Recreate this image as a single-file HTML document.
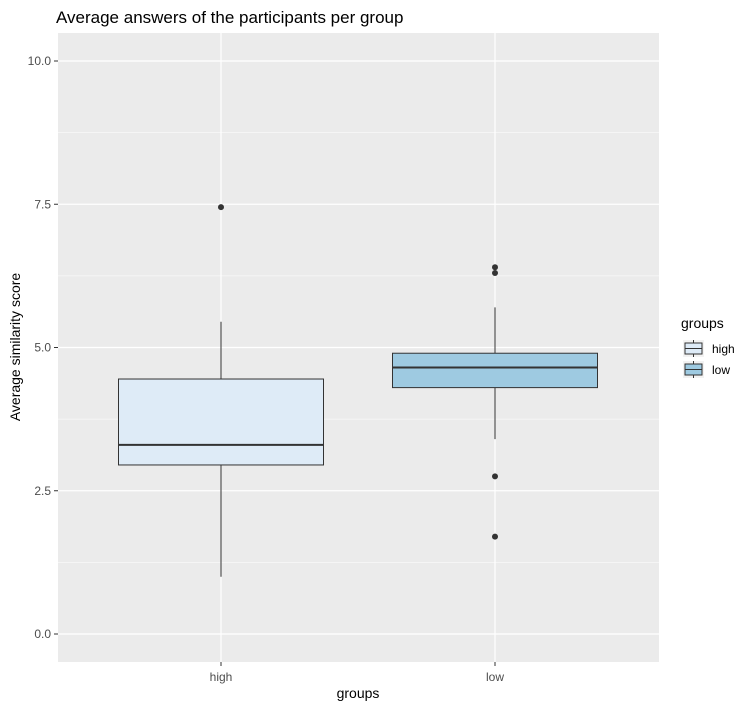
<!DOCTYPE html>
<html><head><meta charset="utf-8"><style>
body{margin:0;background:#fff;}
svg text{font-family:"Liberation Sans",Arial,sans-serif;}
</style></head><body>
<svg width="751" height="709" xmlns="http://www.w3.org/2000/svg" id="chart">
<text x="56" y="23" font-size="17" fill="#000">Average answers of the participants per group</text>
<rect x="58" y="33" width="601" height="629" fill="#ebebeb"/>
<g id="grid"></g>
<g id="marks"></g>
<g id="axes"></g>
<text x="358" y="698" font-size="14" text-anchor="middle">groups</text>
<text transform="translate(20,347) rotate(-90)" font-size="14" text-anchor="middle">Average similarity score</text>
<g>
<text x="681" y="328" font-size="14">groups</text>
<g>
<rect x="683" y="340" width="21" height="17" fill="#f2f2f2"/>
<line x1="693.5" y1="340" x2="693.5" y2="357" stroke="#333"/>
<rect x="685" y="343" width="17" height="11" fill="#deebf7" stroke="#333"/>
<line x1="685" y1="348.5" x2="702" y2="348.5" stroke="#333"/>
<text x="712" y="353" font-size="12" fill="#000">high</text></g>
<g>
<rect x="683" y="361" width="21" height="17" fill="#f2f2f2"/>
<line x1="693.5" y1="361" x2="693.5" y2="378" stroke="#333"/>
<rect x="685" y="364" width="17" height="11" fill="#9ecae1" stroke="#333"/>
<line x1="685" y1="369.5" x2="702" y2="369.5" stroke="#333"/>
<text x="712" y="374" font-size="12" fill="#000">low</text></g>
</g>
</svg>
<script>
const categories=["high","low"];
const q1=[2.95,4.3];
const medians=[3.3,4.65];
const q3=[4.45,4.9];
const whiskerLow=[1.0,3.4];
const whiskerHigh=[5.45,5.7];
const outliers=[[7.45],[6.4,6.3,2.75,1.7]];
const fills=["#deebf7","#9ecae1"];
const yTicks=[0,2.5,5,7.5,10];
const yTickLabels=["0.0","2.5","5.0","7.5","10.0"];
const NS="http://www.w3.org/2000/svg";
const y=v=>634-v*57.3;
const x=i=>221+i*274;
const bw=205;
function mk(tag,attrs,parent){const e=document.createElementNS(NS,tag);for(const k in attrs)e.setAttribute(k,attrs[k]);document.getElementById(parent).appendChild(e);return e;}
// minor grid
for(let i=0;i<yTicks.length-1;i++){const v=(yTicks[i]+yTicks[i+1])/2;
const g=mk('line',{x1:58,x2:659,y1:y(v),y2:y(v),stroke:'#fff','stroke-width':0.6},'grid');

}
yTicks.forEach((v,i)=>{
const g=mk('line',{x1:58,x2:659,y1:y(v),y2:y(v),stroke:'#fff','stroke-width':1.2},'grid');


const t=mk('line',{x1:54,x2:58,y1:y(v),y2:y(v),stroke:'#333'},'axes');


const l=mk('text',{x:51,y:y(v)+4,'font-size':12,fill:'#4d4d4d','text-anchor':'end'},'axes');l.textContent=yTickLabels[i];


});
categories.forEach((c,i)=>{
const g=mk('line',{x1:x(i),x2:x(i),y1:33,y2:662,stroke:'#fff','stroke-width':1.2},'grid');


const t=mk('line',{x1:x(i),x2:x(i),y1:662,y2:666,stroke:'#333'},'axes');


const l=mk('text',{x:x(i),y:681,'font-size':12,fill:'#4d4d4d','text-anchor':'middle'},'axes');l.textContent=c;


const w1=mk('line',{x1:x(i),x2:x(i),y1:y(whiskerHigh[i]),y2:y(q3[i]),stroke:'#333'},'marks');


const w2=mk('line',{x1:x(i),x2:x(i),y1:y(q1[i]),y2:y(whiskerLow[i]),stroke:'#333'},'marks');


const b=mk('rect',{x:x(i)-bw/2,y:y(q3[i]),width:bw,height:y(q1[i])-y(q3[i]),fill:fills[i],stroke:'#333'},'marks');


const m=mk('line',{x1:x(i)-bw/2,x2:x(i)+bw/2,y1:y(medians[i]),y2:y(medians[i]),stroke:'#333','stroke-width':2},'marks');


outliers[i].forEach(v=>{const p=mk('circle',{cx:x(i),cy:y(v),r:3,fill:'#333'},'marks');

});
});
</script>
</body></html>
